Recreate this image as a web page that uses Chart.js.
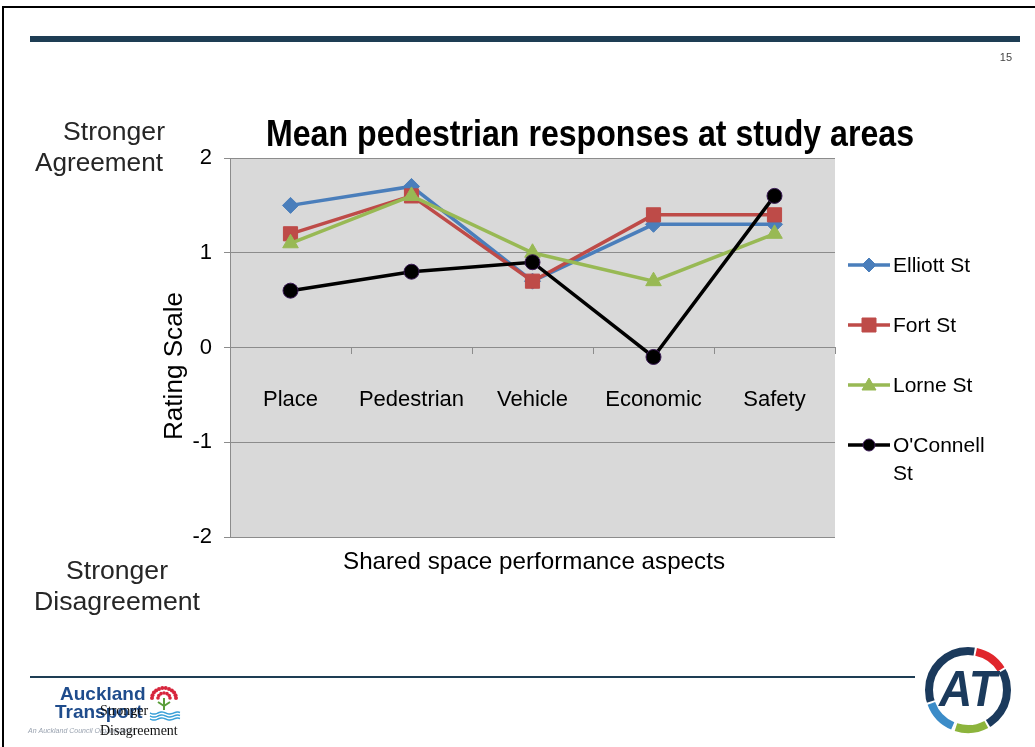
<!DOCTYPE html>
<html>
<head>
<meta charset="utf-8">
<script src="https://cdn.jsdelivr.net/npm/chart.js@4/dist/chart.umd.min.js"></script>
<style>
  html, body { margin: 0; padding: 0; background: #fff; }
  #wrap { width: 1035px; height: 747px; position: relative; }
</style>
</head>
<body>
<div id="wrap"><canvas id="chart" width="1035" height="747"></canvas></div>
<script>
// chart data
const categories = ["Place", "Pedestrian", "Vehicle", "Economic", "Safety"];
const elliottSt = [1.5, 1.7, 0.7, 1.3, 1.3];
const fortSt = [1.2, 1.6, 0.7, 1.4, 1.4];
const lorneSt = [1.1, 1.6, 1.0, 0.7, 1.2];
const oconnellSt = [0.6, 0.8, 0.9, -0.1, 1.6];
const yTicks = [-2, -1, 0, 1, 2];

const seriesNames = ["Elliott St", "Fort St", "Lorne St", "O'Connell St"];
const seriesColors = ["#4a7ebb", "#be4b48", "#98b954", "#000000"];

const FONT = "'Liberation Sans', Arial, sans-serif";
const GRID = "#8c8c8c";

// small marker drawer for the legend
function drawMarker(ctx, style, x, y, color, border) {
  ctx.save();
  ctx.fillStyle = color;
  ctx.strokeStyle = border || color;
  ctx.lineWidth = 1;
  ctx.beginPath();
  if (style === "rectRot") {
    ctx.moveTo(x, y - 7); ctx.lineTo(x + 7, y); ctx.lineTo(x, y + 7); ctx.lineTo(x - 7, y);
    ctx.closePath();
  } else if (style === "rect") {
    ctx.rect(x - 7, y - 7, 14, 14);
  } else if (style === "triangle") {
    ctx.moveTo(x, y - 7); ctx.lineTo(x + 7, y + 5); ctx.lineTo(x - 7, y + 5);
    ctx.closePath();
  } else {
    ctx.arc(x, y, 6, 0, Math.PI * 2);
  }
  ctx.fill();
  ctx.stroke();
  ctx.restore();
}

// text squeezed or stretched to a given width (the slide uses a narrow face)
function fitText(ctx, text, cx, cy, width) {
  const w = ctx.measureText(text).width;
  ctx.save();
  ctx.translate(cx, cy);
  ctx.scale(width / w, 1);
  ctx.fillText(text, 0, 0);
  ctx.restore();
}

// background and plot area fill
const backdrop = {
  id: "backdrop",
  beforeDraw(chart) {
    const ctx = chart.ctx;
    const a = chart.chartArea;
    ctx.save();
    ctx.fillStyle = "#ffffff";
    ctx.fillRect(0, 0, chart.width, chart.height);
    ctx.fillStyle = "#d9d9d9";
    ctx.fillRect(a.left, a.top, a.right - a.left, a.bottom - a.top);
    ctx.restore();
  }
};

// everything around the plot: slide decoration, titles, legend, logos
const decorations = {
  id: "decorations",
  afterDraw(chart) {
    const ctx = chart.ctx;
    const a = chart.chartArea;
    ctx.save();

    // slide frame
    ctx.fillStyle = "#000";
    ctx.fillRect(2, 6, 2, 741);
    ctx.fillRect(2, 6, 1033, 2);

    // top bar and bottom rule
    ctx.fillStyle = "#1e3d54";
    ctx.fillRect(30, 36, 990, 6);
    ctx.fillRect(30, 676, 885, 2);

    // page number
    ctx.fillStyle = "#444";
    ctx.font = "11px " + FONT;
    ctx.textAlign = "right";
    ctx.textBaseline = "middle";
    ctx.fillText("15", 1012, 58);

    // chart title (condensed bold)
    ctx.fillStyle = "#000";
    ctx.textAlign = "center";
    ctx.font = "bold 37px " + FONT;
    fitText(ctx, "Mean pedestrian responses at study areas", 590, 136, 648);

    // side labels
    ctx.fillStyle = "#262626";
    ctx.font = "25px " + FONT;
    fitText(ctx, "Stronger", 114, 133, 102);
    fitText(ctx, "Agreement", 99, 164, 128);
    fitText(ctx, "Stronger", 117, 572, 102);
    fitText(ctx, "Disagreement", 117, 603, 166);

    // axis titles
    ctx.fillStyle = "#000";
    ctx.font = "24px " + FONT;
    fitText(ctx, "Shared space performance aspects", 534, 562, 382);
    ctx.save();
    ctx.translate(175, 366);
    ctx.rotate(-Math.PI / 2);
    ctx.font = "25px " + FONT;
    fitText(ctx, "Rating Scale", 0, 0, 148);
    ctx.restore();

    // legend
    const styles = ["rectRot", "rect", "triangle", "circle"];
    const rows = [265, 325, 385, 445];
    ctx.font = "21px " + FONT;
    ctx.textAlign = "left";
    for (let i = 0; i < seriesNames.length; i++) {
      ctx.strokeStyle = seriesColors[i];
      ctx.lineWidth = 3.5;
      ctx.beginPath();
      ctx.moveTo(848, rows[i]);
      ctx.lineTo(890, rows[i]);
      ctx.stroke();
      drawMarker(ctx, styles[i], 869, rows[i], seriesColors[i], i === 3 ? "#3a1a55" : null);
      ctx.fillStyle = "#000";
      if (i === 3) {
        ctx.fillText("O'Connell", 893, rows[i] + 1);
        ctx.fillText("St", 893, rows[i] + 29);
      } else {
        ctx.fillText(seriesNames[i], 893, rows[i] + 1);
      }
    }

    // Auckland Transport wordmark
    ctx.fillStyle = "#1f4c8c";
    ctx.font = "bold 19px " + FONT;
    ctx.fillText("Auckland", 60, 695);
    ctx.fillText("Transport", 55, 713);
    ctx.fillStyle = "#9aa3b0";
    ctx.font = "italic 7px " + FONT;
    ctx.fillText("An Auckland Council Organisation", 28, 731);
    // pohutukawa flower
    ctx.fillStyle = "#d7263d";
    for (let k = 0; k < 12; k++) {
      const ang = Math.PI + (k / 11) * Math.PI;
      ctx.beginPath();
      ctx.arc(164 + Math.cos(ang) * 12, 698 + Math.sin(ang) * 10, 2, 0, Math.PI * 2);
      ctx.fill();
    }
    for (let k = 0; k < 7; k++) {
      const ang = Math.PI + (k / 6) * Math.PI;
      ctx.beginPath();
      ctx.arc(164 + Math.cos(ang) * 6, 698 + Math.sin(ang) * 5, 1.8, 0, Math.PI * 2);
      ctx.fill();
    }
    ctx.strokeStyle = "#5a9e3a";
    ctx.lineWidth = 2;
    ctx.beginPath();
    ctx.moveTo(164, 698); ctx.lineTo(164, 710);
    ctx.moveTo(164, 706); ctx.lineTo(158, 702);
    ctx.moveTo(164, 706); ctx.lineTo(170, 702);
    ctx.stroke();
    ctx.strokeStyle = "#3aa0d8";
    ctx.lineWidth = 1.5;
    for (let r = 0; r < 3; r++) {
      ctx.beginPath();
      for (let xx = 150; xx <= 180; xx += 1) {
        const yy = 713 + r * 3 + Math.sin((xx - 150) / 2.5) * 1;
        if (xx === 150) ctx.moveTo(xx, yy); else ctx.lineTo(xx, yy);
      }
      ctx.stroke();
    }

    // stray serif text overlapping the logo
    ctx.fillStyle = "#111";
    ctx.font = "14px 'Liberation Serif', 'Times New Roman', serif";
    ctx.fillText("Stronger", 100, 711);
    ctx.fillText("Disagreement", 100, 731);

    // AT roundel
    const cx = 968, cy = 690, R = 39;
    ctx.lineWidth = 8;
    ctx.strokeStyle = "#1b3a5c";
    ctx.beginPath(); ctx.arc(cx, cy, R, 0, Math.PI * 2); ctx.stroke();
    const seg = (c, s, e) => {
      ctx.strokeStyle = "#fff"; ctx.lineWidth = 10;
      ctx.beginPath(); ctx.arc(cx, cy, R, s - 0.05, e + 0.05); ctx.stroke();
      ctx.strokeStyle = c; ctx.lineWidth = 8;
      ctx.beginPath(); ctx.arc(cx, cy, R, s, e); ctx.stroke();
    };
    const d = Math.PI / 180;
    seg("#e0262c", -78 * d, -32 * d);
    seg("#8cb43c", 62 * d, 108 * d);
    seg("#3c8cc8", 113 * d, 160 * d);
    ctx.fillStyle = "#1b3a5c";
    ctx.font = "italic bold 50px " + FONT;
    ctx.textAlign = "center";
    fitText(ctx, "AT", cx, cy + 2, 58);

    ctx.restore();
  }
};

const ctx = document.getElementById("chart");

const chart = new Chart(ctx, {
  type: "line",
  data: {
    labels: categories,
    datasets: [
      {
        label: seriesNames[0],
        data: elliottSt,
        borderColor: seriesColors[0],
        backgroundColor: seriesColors[0],
        pointStyle: "rectRot",
        pointRadius: 8,
        order: 4,
      },
      {
        label: seriesNames[1],
        data: fortSt,
        borderColor: seriesColors[1],
        backgroundColor: seriesColors[1],
        pointStyle: "rect",
        pointRadius: 10,
        order: 3,
      },
      {
        label: seriesNames[2],
        data: lorneSt,
        borderColor: seriesColors[2],
        backgroundColor: seriesColors[2],
        pointStyle: "triangle",
        pointRadius: 9,
        order: 2,
      },
      {
        label: seriesNames[3],
        data: oconnellSt,
        borderColor: seriesColors[3],
        backgroundColor: seriesColors[3],
        pointBorderColor: "#3a1a55",
        pointStyle: "circle",
        pointRadius: 7.5,
        order: 1,
      },
    ],
  },
  options: {
    responsive: false,
    animation: false,
    events: [],
    layout: { padding: { left: 170, top: 158, right: 200, bottom: 210 } },
    elements: {
      line: { borderWidth: 3.5, tension: 0, fill: false },
      point: { borderWidth: 1, hoverRadius: 8 },
    },
    plugins: {
      legend: { display: false },
      title: { display: false },
      tooltip: { enabled: false },
    },
    scales: {
      x: {
        type: "category",
        position: { y: 0 },
        offset: true,
        grid: {
          offset: true,
          drawOnChartArea: false,
          drawTicks: true,
          tickLength: 6,
          color: GRID,
        },
        border: { display: true, color: GRID, width: 1 },
        ticks: {
          color: "#000",
          padding: 33,
          maxRotation: 0,
          font: { family: FONT, size: 22 },
        },
      },
      y: {
        min: -2,
        max: 2,
        afterFit(scale) { scale.width = 60; },
        afterBuildTicks(scale) { scale.ticks = yTicks.map((v) => ({ value: v })); },
        grid: { color: GRID, lineWidth: 1, tickLength: 6 },
        border: { display: true, color: GRID, width: 1 },
        ticks: {
          color: "#000",
          padding: 12,
          font: { family: FONT, size: 22 },
        },
      },
    },
  },
  plugins: [backdrop, decorations],
});
</script>
</body>
</html>
